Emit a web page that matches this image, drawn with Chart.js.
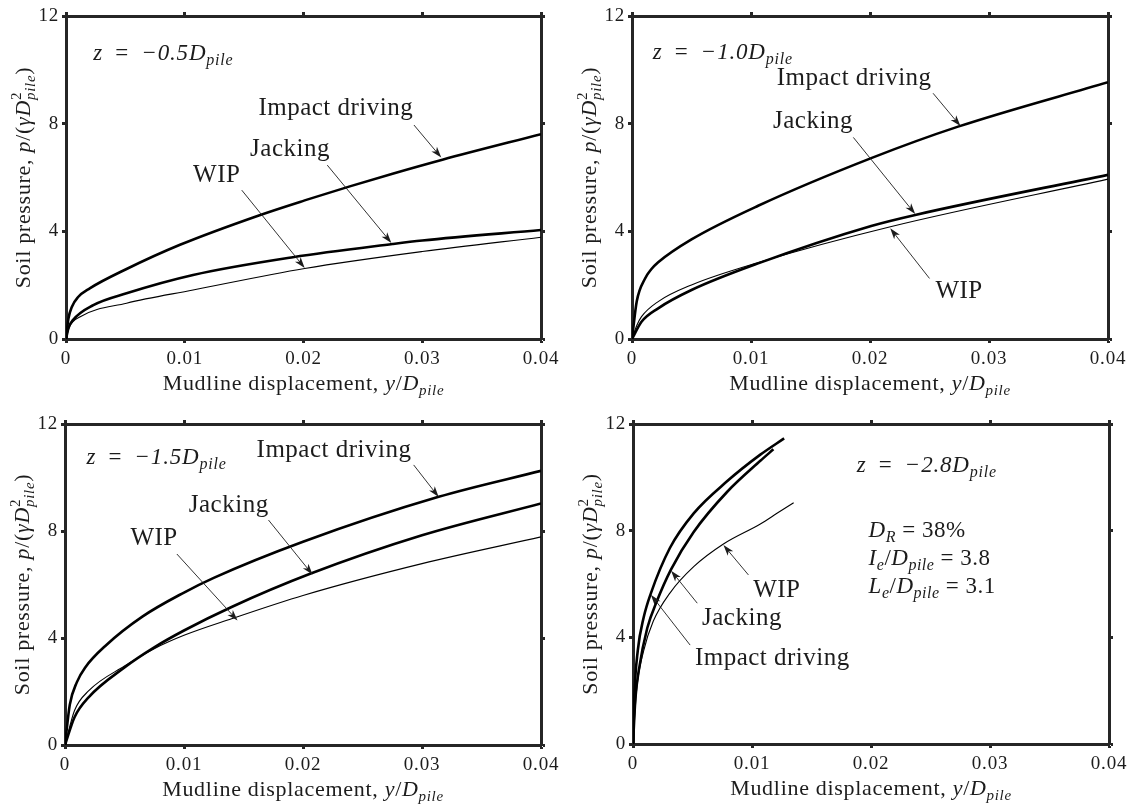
<!DOCTYPE html>
<html>
<head>
<meta charset="utf-8">
<script src="https://cdn.jsdelivr.net/npm/chart.js@4.4.1/dist/chart.umd.min.js"></script>
<style>
    html, body { margin: 0; padding: 0; background: #fff; }
    #wrap { position: relative; width: 1135px; height: 809px; overflow: hidden; }
    canvas { position: absolute; display: block; }
</style>
</head>
<body>
<div id="wrap">
    <canvas id="p1" width="566" height="404" style="left:0;top:0"></canvas>
    <canvas id="p2" width="569" height="404" style="left:566px;top:0"></canvas>
    <canvas id="p3" width="566" height="405" style="left:0;top:404px"></canvas>
    <canvas id="p4" width="569" height="405" style="left:566px;top:404px"></canvas>
</div>
<script>
"use strict";

// ------------------------------------------------------- //
// Axis ticks
// ------------------------------------------------------ //
var xTicks = [0, 0.01, 0.02, 0.03, 0.04];
var xTickLabels = ["0", "0.01", "0.02", "0.03", "0.04"];
var yTicks = [0, 4, 8, 12];
var yTickLabels = ["0", "4", "8", "12"];

// ------------------------------------------------------- //
// z = -0.5 D_pile
// ------------------------------------------------------ //
var p1ImpactX = [0, 0.0002, 0.0005, 0.001, 0.002, 0.0051, 0.0096, 0.0163, 0.0201, 0.0239, 0.0275, 0.0317, 0.04];
var p1ImpactY = [0, 0.75, 1.2, 1.55, 1.88, 2.6, 3.5, 4.6, 5.15, 5.67, 6.14, 6.66, 7.61];
var p1JackX = [0, 0.0002, 0.0006, 0.0023, 0.0051, 0.0107, 0.0191, 0.0275, 0.03, 0.04];
var p1JackY = [0, 0.4, 0.71, 1.26, 1.70, 2.38, 3.04, 3.53, 3.66, 4.05];
var p1WipX = [0, 0.0003, 0.0012, 0.0051, 0.0107, 0.0201, 0.03, 0.04];
var p1WipY = [0, 0.46, 0.83, 1.33, 1.82, 2.62, 3.25, 3.78];

// ------------------------------------------------------- //
// z = -1.0 D_pile
// ------------------------------------------------------ //
var p2ImpactX = [0, 0.0004, 0.0011, 0.0016, 0.0022, 0.005, 0.0106, 0.0201, 0.0274, 0.04];
var p2ImpactY = [0, 1.4, 2.25, 2.58, 2.85, 3.7, 4.95, 6.72, 7.89, 9.54];
var p2JackX = [0, 0.0008, 0.0022, 0.005, 0.0106, 0.0201, 0.0238, 0.04];
var p2JackY = [0, 0.64, 1.14, 1.82, 2.81, 4.20, 4.61, 6.10];
var p2WipX = [0, 0.0004, 0.0008, 0.0022, 0.005, 0.0106, 0.0218, 0.04];
var p2WipY = [0, 0.5, 0.83, 1.39, 2.01, 2.84, 4.18, 5.94];

// ------------------------------------------------------- //
// z = -1.5 D_pile
// ------------------------------------------------------ //
var p3ImpactX = [0, 0.0004, 0.001, 0.0017, 0.0035, 0.0065, 0.01, 0.0125, 0.02, 0.0314, 0.04];
var p3ImpactY = [0, 1.5, 2.35, 2.9, 3.75, 4.8, 5.7, 6.25, 7.6, 9.28, 10.25];
var p3JackX = [0, 0.0008, 0.002, 0.005, 0.0075, 0.01, 0.014, 0.0206, 0.03, 0.04];
var p3JackY = [0, 1.04, 1.79, 2.9, 3.65, 4.28, 5.16, 6.40, 7.84, 9.03];
var p3WipX = [0, 0.0008, 0.002, 0.005, 0.0075, 0.01, 0.014, 0.02, 0.03, 0.04];
var p3WipY = [0, 1.29, 2.03, 2.95, 3.6, 4.1, 4.72, 5.59, 6.78, 7.78];

// ------------------------------------------------------- //
// z = -2.8 D_pile
// ------------------------------------------------------ //
var p4ImpactX = [0, 0.0001, 0.0004, 0.0009, 0.0015, 0.0031, 0.0051, 0.0079, 0.0107, 0.0127];
var p4ImpactY = [0, 1.7, 3.5, 4.75, 5.65, 7.35, 8.65, 9.85, 10.85, 11.46];
var p4JackX = [0, 0.0002, 0.0005, 0.0012, 0.002, 0.0032, 0.0051, 0.0079, 0.0107, 0.0118];
var p4JackY = [0, 1.7, 2.8, 4.35, 5.35, 6.55, 7.95, 9.45, 10.62, 11.05];
var p4WipX = [0, 0.0003, 0.0009, 0.0017, 0.0031, 0.0051, 0.0076, 0.0107, 0.0121, 0.0135];
var p4WipY = [0, 2.0, 3.5, 4.6, 5.66, 6.65, 7.5, 8.25, 8.65, 9.05];

var serif = "'Liberation Serif', 'DejaVu Serif', serif";
var ink = "#1c1c1c";
var frame = "#262626";

var xTitle = [["Mudline displacement, ", "r"], ["y", "i"], ["/", "r"], ["D", "i"], ["pile", "sub"]];
var yTitle = [["Soil pressure, ", "r"], ["p", "i"], ["/(", "r"], ["\u03b3D", "i"], ["2", "sup"], ["pile", "sub"], [")", "r"]];

// draw a line of text with italic / sub / sup pieces
function drawRich(ctx, parts, x, y, size, angle, align, spacing) {
    function fontFor(st) {
        var sz = (st === "sub" || st === "sup") ? Math.round(size * 0.68) : size;
        var it = (st === "i" || st === "sub") ? "italic " : "";
        return it + sz + "px " + serif;
    }
    ctx.save();
    ctx.letterSpacing = (spacing || 0) + "px";
    var widths = [], total = 0;
    parts.forEach(function (p) {
        ctx.font = fontFor(p[1]);
        var w = ctx.measureText(p[0]).width;
        widths.push(w);
        if (p[1] !== "sup") total += w;
    });
    ctx.translate(x, y);
    ctx.rotate(angle);
    ctx.textAlign = "left";
    ctx.textBaseline = "alphabetic";
    ctx.fillStyle = ink;
    var cx = align === "center" ? -total / 2 : 0;
    parts.forEach(function (p, i) {
        ctx.font = fontFor(p[1]);
        var dy = p[1] === "sub" ? size * 0.22 : (p[1] === "sup" ? -size * 0.42 : 0);
        ctx.fillText(p[0], cx, dy);
        if (p[1] !== "sup") cx += widths[i];
    });
    ctx.restore();
}

function drawArrow(ctx, x1, y1, x2, y2) {
    var ang = Math.atan2(y2 - y1, x2 - x1);
    ctx.save();
    ctx.strokeStyle = ink;
    ctx.fillStyle = ink;
    ctx.lineWidth = 0.9;
    ctx.beginPath();
    ctx.moveTo(x1, y1);
    ctx.lineTo(x2 - Math.cos(ang) * 6, y2 - Math.sin(ang) * 6);
    ctx.stroke();
    ctx.translate(x2, y2);
    ctx.rotate(ang);
    ctx.beginPath();
    ctx.moveTo(0, 0);
    ctx.lineTo(-11, -3.6);
    ctx.lineTo(-8, 0);
    ctx.lineTo(-11, 3.6);
    ctx.closePath();
    ctx.fill();
    ctx.restore();
}

var annotate = {
    id: "annotate",
    beforeDraw: function (chart) {
        chart.ctx.letterSpacing = "0.8px";
    },
    afterDraw: function (chart, args, opts) {
        var ctx = chart.ctx, xs = chart.scales.x, ys = chart.scales.y, ca = chart.chartArea;
        (opts.arrows || []).forEach(function (a) {
            drawArrow(ctx, xs.getPixelForValue(a[0]), ys.getPixelForValue(a[1]),
                xs.getPixelForValue(a[2]), ys.getPixelForValue(a[3]));
        });
        (opts.labels || []).forEach(function (l) {
            drawRich(ctx, l.parts, xs.getPixelForValue(l.x), ys.getPixelForValue(l.y), l.size, 0, "left", l.spacing);
        });
        drawRich(ctx, xTitle, (ca.left + ca.right) / 2, ca.bottom + 51, 22, 0, "center", 0.7);
        drawRich(ctx, yTitle, ca.left - 36, (ca.top + ca.bottom) / 2, 22, -Math.PI / 2, "center", 0.7);
    }
};

function axisOpts(pos, min, max, ticks, labels, size, showLabels) {
    var horiz = pos === "top" || pos === "bottom";
    return {
        type: "linear",
        position: pos,
        min: min,
        max: max,
        afterBuildTicks: function (s) {
            s.ticks = ticks.map(function (v) { return { value: v }; });
        },
        afterFit: function (s) {
            if (horiz) { s.height = size; } else { s.width = size; }
        },
        border: { display: true, color: frame, width: 3 },
        grid: { drawOnChartArea: false, drawTicks: true, tickLength: 4, tickWidth: 3, tickColor: frame },
        ticks: {
            display: showLabels,
            padding: horiz ? 5 : 3,
            color: ink,
            font: { family: serif, size: 19 },
            callback: function (v, i) { return labels[i]; }
        }
    };
}

function series(label, xs, ys) {
    return {
        label: label,
        data: xs.map(function (v, i) { return { x: v, y: ys[i] }; }),
        showLine: true,
        borderColor: "#000",
        borderWidth: label === "WIP" ? 1.1 : 2.6,
        pointRadius: 0,
        cubicInterpolationMode: "monotone",
        fill: false
    };
}

function makePanel(id, datasets, notes, box) {
    return new Chart(document.getElementById(id), {
        type: "scatter",
        data: { datasets: datasets },
        options: {
            responsive: false,
            animation: false,
            events: [],
            layout: { padding: 0 },
            plugins: {
                legend: { display: false },
                tooltip: { enabled: false },
                annotate: notes
            },
            scales: {
                x: axisOpts("bottom", 0, 0.04, xTicks, xTickLabels, box.bottom, true),
                y: axisOpts("left", 0, 12, yTicks, yTickLabels, box.left, true),
                xTop: axisOpts("top", 0, 0.04, xTicks, xTickLabels, box.top, false),
                yRight: axisOpts("right", 0, 12, yTicks, yTickLabels, box.right, false)
            }
        },
        plugins: [annotate]
    });
}

function zLabel(txt, x, y) {
    return { parts: [["z", "i"], ["\u2002=\u2002", "r"], [txt, "i"], ["pile", "sub"]], x: x, y: y, size: 23, spacing: 0.8 };
}
function word(txt, x, y) {
    return { parts: [[txt, "r"]], x: x, y: y, size: 25, spacing: 0.5 };
}

makePanel("p1", [
    series("Impact driving", p1ImpactX, p1ImpactY),
    series("Jacking", p1JackX, p1JackY),
    series("WIP", p1WipX, p1WipY)
], {
    labels: [
        zLabel("\u22120.5D", 0.0023, 10.36),
        word("Impact driving", 0.0162, 8.32),
        word("Jacking", 0.0155, 6.80),
        word("WIP", 0.0107, 5.84)
    ],
    arrows: [
        [0.0293, 7.95, 0.0316, 6.74],
        [0.0220, 6.46, 0.0274, 3.57],
        [0.0148, 5.53, 0.0201, 2.64]
    ]
}, { left: 66, top: 16, right: 25, bottom: 65 });

makePanel("p2", [
    series("Impact driving", p2ImpactX, p2ImpactY),
    series("Jacking", p2JackX, p2JackY),
    series("WIP", p2WipX, p2WipY)
], {
    labels: [
        zLabel("\u22121.0D", 0.00174, 10.42),
        word("Impact driving", 0.01216, 9.44),
        word("Jacking", 0.01185, 7.83),
        word("WIP", 0.0255, 1.52)
    ],
    arrows: [
        [0.0253, 9.13, 0.0276, 7.91],
        [0.0186, 7.49, 0.0238, 4.64],
        [0.0250, 2.25, 0.0217, 4.11]
    ]
}, { left: 66, top: 16, right: 27, bottom: 65 });

makePanel("p3", [
    series("Impact driving", p3ImpactX, p3ImpactY),
    series("Jacking", p3JackX, p3JackY),
    series("WIP", p3WipX, p3WipY)
], {
    labels: [
        zLabel("\u22121.5D", 0.0018, 10.52),
        word("Impact driving", 0.0161, 10.77),
        word("Jacking", 0.0104, 8.71),
        word("WIP", 0.0055, 7.46)
    ],
    arrows: [
        [0.0293, 10.47, 0.0314, 9.27],
        [0.0171, 8.41, 0.0208, 6.37],
        [0.0094, 7.14, 0.0145, 4.65]
    ]
}, { left: 65, top: 20, right: 25, bottom: 64 });

makePanel("p4", [
    series("Impact driving", p4ImpactX, p4ImpactY),
    series("Jacking", p4JackX, p4JackY),
    series("WIP", p4WipX, p4WipY)
], {
    labels: [
        zLabel("\u22122.8D", 0.0188, 10.21),
        { parts: [["D", "i"], ["R", "sub"], [" = 38%", "r"]], x: 0.0198, y: 7.77, size: 23, spacing: 0.5 },
        { parts: [["I", "i"], ["e", "sub"], ["/", "r"], ["D", "i"], ["pile", "sub"], [" = 3.8", "r"]], x: 0.0198, y: 6.71, size: 23, spacing: 0.5 },
        { parts: [["L", "i"], ["e", "sub"], ["/", "r"], ["D", "i"], ["pile", "sub"], [" = 3.1", "r"]], x: 0.0198, y: 5.65, size: 23, spacing: 0.5 },
        word("WIP", 0.0101, 5.52),
        word("Jacking", 0.0058, 4.46),
        word("Impact driving", 0.0052, 2.96)
    ],
    arrows: [
        [0.0097, 6.34, 0.0076, 7.46],
        [0.0054, 5.28, 0.0032, 6.5],
        [0.0048, 3.71, 0.0015, 5.6]
    ]
}, { left: 67, top: 20, right: 26, bottom: 65 });
</script>
</body>
</html>
